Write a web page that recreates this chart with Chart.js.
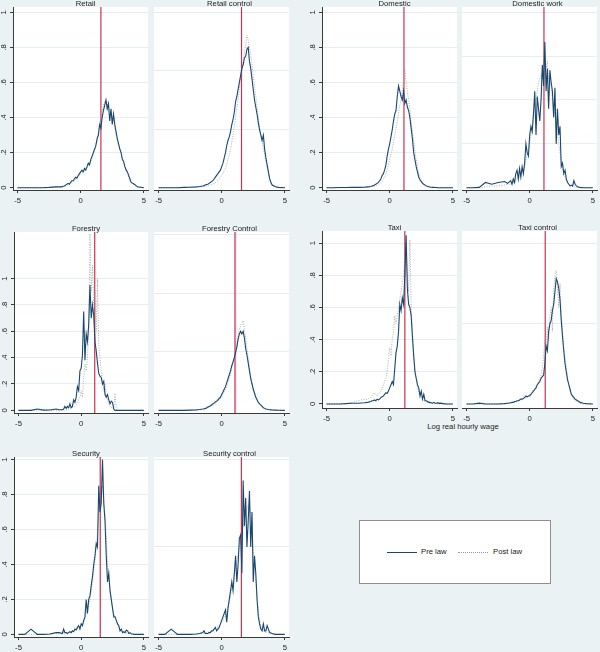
<!DOCTYPE html>
<html>
<head>
<meta charset="utf-8">
<script src="https://cdn.jsdelivr.net/npm/chart.js@4.4.0/dist/chart.umd.min.js"></script>
<style>
  html, body { margin: 0; padding: 0; }
  body { width: 600px; height: 652px; background: #eaf2f3; position: relative; overflow: hidden;
         font-family: "Liberation Sans", Arial, sans-serif; color: #222; }
  canvas { position: absolute; }
  #xtitle { position: absolute; left: 403px; width: 120px; top: 423px; line-height: 8px;
            text-align: center; font-size: 7.7px; }
  #legend { position: absolute; left: 359px; top: 520px; width: 190px; height: 62px;
            background: #fff; border: 1px solid #8e8e8e; }
  .key { position: absolute; top: 31px; width: 30px; height: 0; }
  .lab { position: absolute; top: 27px; line-height: 8px; font-size: 7.7px; white-space: nowrap; }
</style>
</head>
<body>
<div id="xtitle">Log real hourly wage</div>
<div id="legend">
  <div class="key" style="left:27px; border-top:1.3px solid #1a476f;"></div>
  <div class="lab" style="left:61px;">Pre law</div>
  <div class="key" style="left:98px; border-top:1px dotted #999;"></div>
  <div class="lab" style="left:133px;">Post law</div>
</div>
<script>
// x grid shared by all the density curves
const grid = [-5, -4.5, -4, -3.5, -3, -2.5, -2, -1.75,
  -1.5, -1.4, -1.3, -1.2, -1.1, -1, -0.9, -0.8, -0.7, -0.6,
  -0.5, -0.4, -0.3, -0.2, -0.1, 0, 0.1, 0.2, 0.3, 0.4,
  0.5, 0.6, 0.7, 0.8, 0.9, 1, 1.1, 1.2, 1.3, 1.4,
  1.5, 1.6, 1.7, 1.8, 1.9, 2, 2.1, 2.2, 2.3, 2.4,
  2.5, 2.6, 2.7, 2.8, 2.9, 3, 3.1, 3.2, 3.3, 3.4,
  3.5, 3.6, 3.7, 3.8, 3.9, 4,
  4.25, 4.5, 5];

const xTicks = [-5, 0, 5];
const yTicks = [0, 0.2, 0.4, 0.6, 0.8, 1];
const yTickLabels = ['0', '.2', '.4', '.6', '.8', '1'];

// gridlines of the right hand panels
const retailCtrlGrid = [0.333, 0.667, 1];
const domWorkGrid = [0.25, 0.5, 0.75, 1];
const forestCtrlGrid = [0.444, 0.889, 1.333];
const taxiCtrlGrid = [0.5, 1];
const secCtrlGrid = [0.5, 1];

// log minimum wage (red line)
const retailMin = 1.6, retailCtrlMin = 1.57;
const domMin = 1.13, domWorkMin = 1.13;
const forestMin = 1.08, forestCtrlMin = 1.06;
const taxiMin = 1.2, taxiCtrlMin = 1.23;
const secMin = 1.52, secCtrlMin = 1.56;

// Retail
const retailPre = [0, 0, 0, 0, 0, 0.002, 0.005, 0.005,
  0.005, 0.008, 0.01, 0.015, 0.02, 0.025, 0.02, 0.03, 0.04, 0.04,
  0.05, 0.06, 0.055, 0.07, 0.08, 0.09, 0.1, 0.09, 0.11, 0.1,
  0.12, 0.14, 0.13, 0.16, 0.18, 0.2, 0.22, 0.24, 0.28, 0.3,
  0.36, 0.34, 0.4, 0.44, 0.47, 0.5, 0.45, 0.48, 0.38, 0.45,
  0.36, 0.42, 0.36, 0.32, 0.28, 0.25, 0.22, 0.2, 0.16, 0.15,
  0.12, 0.1, 0.09, 0.07, 0.05, 0.03,
  0.02, 0.005, 0];
const retailPost = [0, 0, 0, 0, 0, 0.002, 0.003, 0.005,
  0.005, 0.006, 0.008, 0.01, 0.012, 0.015, 0.02, 0.025, 0.03, 0.035,
  0.04, 0.05, 0.055, 0.06, 0.07, 0.08, 0.085, 0.09, 0.1, 0.105,
  0.11, 0.12, 0.14, 0.15, 0.17, 0.19, 0.21, 0.24, 0.27, 0.31,
  0.37, 0.4, 0.44, 0.47, 0.49, 0.5, 0.48, 0.46, 0.44, 0.43,
  0.41, 0.39, 0.35, 0.3, 0.27, 0.24, 0.22, 0.2, 0.17, 0.14,
  0.12, 0.1, 0.08, 0.06, 0.04, 0.03,
  0.015, 0.005, 0];

// Retail control
const retailCtrlPre = [0, 0, 0, 0, 0.002, 0.003, 0.005, 0.007,
  0.01, 0.012, 0.015, 0.018, 0.02, 0.025, 0.03, 0.035, 0.04, 0.05,
  0.06, 0.07, 0.08, 0.09, 0.1, 0.12, 0.14, 0.17, 0.2, 0.24,
  0.27, 0.29, 0.32, 0.36, 0.39, 0.43, 0.49, 0.52, 0.56, 0.6,
  0.64, 0.68, 0.7, 0.74, 0.75, 0.79, 0.8, 0.72, 0.68, 0.62,
  0.56, 0.5, 0.46, 0.42, 0.37, 0.33, 0.3, 0.27, 0.3, 0.22,
  0.17, 0.13, 0.09, 0.05, 0.03, 0.015,
  0.005, 0.002, 0];
const retailCtrlPost = [0, 0, 0, 0, 0.001, 0.002, 0.003, 0.005,
  0.006, 0.007, 0.008, 0.01, 0.012, 0.014, 0.016, 0.018, 0.02, 0.025,
  0.03, 0.035, 0.04, 0.05, 0.06, 0.07, 0.08, 0.1, 0.11, 0.13,
  0.16, 0.19, 0.22, 0.26, 0.3, 0.35, 0.4, 0.45, 0.5, 0.56,
  0.62, 0.67, 0.72, 0.77, 0.82, 0.87, 0.84, 0.8, 0.76, 0.7,
  0.64, 0.58, 0.52, 0.46, 0.4, 0.35, 0.3, 0.26, 0.22, 0.19,
  0.15, 0.12, 0.08, 0.05, 0.03, 0.015,
  0.006, 0.002, 0];

// Domestic
const domPre = [0, 0, 0.001, 0.001, 0.002, 0.002, 0.003, 0.005,
  0.007, 0.01, 0.012, 0.015, 0.02, 0.025, 0.03, 0.04, 0.05, 0.07,
  0.08, 0.1, 0.13, 0.18, 0.22, 0.25, 0.29, 0.33, 0.38, 0.42,
  0.44, 0.52, 0.58, 0.55, 0.52, 0.5, 0.55, 0.48, 0.5, 0.46,
  0.44, 0.4, 0.34, 0.28, 0.2, 0.16, 0.12, 0.09, 0.06, 0.045,
  0.035, 0.025, 0.02, 0.015, 0.01, 0.008, 0.006, 0.004, 0.003, 0.002,
  0.002, 0.001, 0.001, 0, 0, 0,
  0, 0, 0];
const domPost = [0, 0, 0, 0, 0.001, 0.002, 0.003, 0.004,
  0.005, 0.006, 0.008, 0.01, 0.012, 0.015, 0.02, 0.025, 0.03, 0.04,
  0.05, 0.06, 0.08, 0.1, 0.13, 0.16, 0.19, 0.22, 0.26, 0.3,
  0.34, 0.38, 0.42, 0.47, 0.5, 0.55, 0.62, 0.68, 0.6, 0.55,
  0.5, 0.45, 0.38, 0.32, 0.27, 0.21, 0.16, 0.12, 0.08, 0.06,
  0.04, 0.03, 0.02, 0.015, 0.01, 0.007, 0.005, 0.003, 0.002, 0.001,
  0.001, 0, 0, 0, 0, 0,
  0, 0, 0];

// Domestic work
const domWorkPre = [0, 0, 0.002, 0.03, 0.02, 0.03, 0.035, 0.025,
  0.04, 0.02, 0.05, 0.03, 0.08, 0.1, 0.05, 0.11, 0.06, 0.12,
  0.08, 0.14, 0.25, 0.2, 0.18, 0.3, 0.35, 0.32, 0.42, 0.55,
  0.3, 0.52, 0.45, 0.38, 0.5, 0.7, 0.58, 0.83, 0.55, 0.68,
  0.45, 0.67, 0.6, 0.55, 0.4, 0.57, 0.25, 0.45, 0.3, 0.35,
  0.12, 0.14, 0.08, 0.1, 0.05, 0.03, 0.02, 0.01, 0.015, 0.01,
  0.04, 0.02, 0.01, 0.005, 0.003, 0.002,
  0, 0, 0];
const domWorkPost = [0, 0, 0, 0.005, 0.01, 0.01, 0.015, 0.02,
  0.02, 0.025, 0.03, 0.03, 0.04, 0.05, 0.05, 0.06, 0.08, 0.09,
  0.1, 0.12, 0.15, 0.2, 0.22, 0.25, 0.3, 0.35, 0.42, 0.48,
  0.5, 0.55, 0.6, 0.62, 0.65, 0.62, 0.7, 0.75, 0.68, 0.72,
  0.62, 0.6, 0.58, 0.5, 0.45, 0.42, 0.38, 0.3, 0.25, 0.2,
  0.15, 0.1, 0.08, 0.06, 0.04, 0.03, 0.02, 0.015, 0.01, 0.01,
  0.01, 0.005, 0.003, 0, 0, 0,
  0, 0, 0];

// Forestry
const forestPre = [0, 0, 0, 0.01, 0.002, 0.003, 0.01, 0.005,
  0.005, 0.01, 0.03, 0.015, 0.03, 0.02, 0.05, 0.02, 0.03, 0.08,
  0.06, 0.1, 0.18, 0.15, 0.3, 0.32, 0.42, 0.75, 0.38, 0.58,
  0.52, 0.65, 0.95, 0.7, 0.8, 0.72, 0.52, 0.45, 0.36, 0.28,
  0.26, 0.25, 0.2, 0.22, 0.12, 0.1, 0.12, 0.08, 0.05, 0.07,
  0.06, 0.01, 0, 0, 0, 0, 0, 0, 0, 0,
  0, 0, 0, 0, 0, 0,
  0, 0, 0];
const forestPost = [0, 0, 0, 0, 0, 0, 0, 0,
  0, 0, 0, 0, 0.005, 0.01, 0.01, 0.02, 0.02, 0.03,
  0.03, 0.04, 0.05, 0.08, 0.1, 0.15, 0.1, 0.25, 0.35, 0.3,
  0.4, 0.6, 1.34, 0.9, 1.1, 0.8, 0.9, 0.6, 1.0, 0.5,
  0.4, 0.3, 0.2, 0.15, 0.2, 0.1, 0.08, 0.05, 0.03, 0.02,
  0.02, 0.01, 0.13, 0.01, 0, 0, 0, 0, 0, 0,
  0, 0, 0, 0, 0, 0,
  0, 0, 0];

// Forestry Control
const forestCtrlPre = [0, 0, 0, 0, 0, 0.002, 0.004, 0.006,
  0.01, 0.012, 0.015, 0.018, 0.025, 0.03, 0.035, 0.04, 0.05, 0.055,
  0.065, 0.07, 0.08, 0.09, 0.1, 0.12, 0.14, 0.16, 0.18, 0.21,
  0.24, 0.27, 0.3, 0.34, 0.37, 0.4, 0.44, 0.48, 0.54, 0.58,
  0.6, 0.58, 0.6, 0.55, 0.47, 0.42, 0.36, 0.3, 0.24, 0.2,
  0.16, 0.13, 0.1, 0.08, 0.06, 0.05, 0.04, 0.03, 0.02, 0.015,
  0.01, 0.008, 0.006, 0.005, 0.004, 0.003,
  0.002, 0.001, 0];
const forestCtrlPost = [0, 0, 0, 0, 0, 0.001, 0.003, 0.005,
  0.007, 0.01, 0.012, 0.015, 0.02, 0.025, 0.03, 0.035, 0.04, 0.045,
  0.05, 0.06, 0.07, 0.08, 0.09, 0.1, 0.12, 0.14, 0.16, 0.18,
  0.21, 0.24, 0.28, 0.32, 0.36, 0.4, 0.45, 0.5, 0.56, 0.62,
  0.64, 0.66, 0.68, 0.62, 0.55, 0.47, 0.4, 0.33, 0.26, 0.21,
  0.17, 0.14, 0.11, 0.08, 0.06, 0.05, 0.04, 0.03, 0.02, 0.015,
  0.01, 0.008, 0.006, 0.004, 0.003, 0.002,
  0.001, 0, 0];

// Taxi
const taxiPre = [0, 0, 0, 0.002, 0.005, 0.005, 0.008, 0.01,
  0.015, 0.02, 0.02, 0.025, 0.02, 0.03, 0.025, 0.03, 0.04, 0.045,
  0.05, 0.06, 0.07, 0.065, 0.08, 0.1, 0.12, 0.14, 0.12, 0.22,
  0.32, 0.36, 0.45, 0.62, 0.58, 0.66, 0.62, 0.8, 1.05, 0.72,
  0.62, 0.6, 0.55, 0.42, 0.3, 0.2, 0.16, 0.12, 0.1, 0.05,
  0.08, 0.03, 0.06, 0.02, 0.02, 0.015, 0.01, 0.01, 0.008, 0.005,
  0.01, 0.005, 0.005, 0.008, 0.004, 0.005,
  0.002, 0, 0];
const taxiPost = [0, 0, 0, 0, 0.01, 0.02, 0.03, 0.03,
  0.04, 0.05, 0.06, 0.07, 0.06, 0.05, 0.06, 0.07, 0.08, 0.1,
  0.12, 0.14, 0.16, 0.2, 0.28, 0.35, 0.3, 0.4, 0.45, 0.55,
  0.5, 0.55, 0.6, 0.65, 0.7, 0.75, 0.8, 0.9, 1.0, 0.8,
  0.7, 1.02, 0.6, 0.45, 0.3, 0.22, 0.15, 0.1, 0.07, 0.05,
  0.04, 0.03, 0.02, 0.015, 0.01, 0.008, 0.005, 0.004, 0.003, 0.002,
  0.002, 0, 0, 0, 0, 0,
  0, 0, 0];

// Taxi control
const taxiCtrlPre = [0, 0, 0.005, 0, 0, 0, 0.002, 0.005,
  0.008, 0.01, 0.01, 0.015, 0.015, 0.02, 0.02, 0.025, 0.03, 0.03,
  0.035, 0.04, 0.05, 0.045, 0.05, 0.05, 0.06, 0.07, 0.08, 0.09,
  0.1, 0.12, 0.13, 0.14, 0.16, 0.17, 0.18, 0.25, 0.36, 0.33,
  0.45, 0.5, 0.52, 0.58, 0.62, 0.7, 0.78, 0.76, 0.72, 0.65,
  0.52, 0.42, 0.33, 0.25, 0.2, 0.15, 0.12, 0.09, 0.06, 0.05,
  0.04, 0.03, 0.025, 0.02, 0.015, 0.01,
  0.005, 0.002, 0];
const taxiCtrlPost = [0, 0, 0, 0, 0, 0, 0.001, 0.003,
  0.005, 0.006, 0.008, 0.01, 0.012, 0.015, 0.018, 0.02, 0.025, 0.03,
  0.03, 0.035, 0.04, 0.045, 0.05, 0.06, 0.07, 0.08, 0.09, 0.1,
  0.11, 0.12, 0.14, 0.16, 0.18, 0.22, 0.3, 0.4, 0.35, 0.48,
  0.4, 0.55, 0.6, 0.45, 0.72, 0.8, 0.83, 0.72, 0.6, 0.75,
  0.55, 0.45, 0.35, 0.28, 0.22, 0.16, 0.12, 0.08, 0.05, 0.04,
  0.03, 0.02, 0.015, 0.01, 0.005, 0.003,
  0, 0, 0];

// Security
const secPre = [0, 0, 0.03, 0, 0, 0.002, 0.01, 0.01,
  0.005, 0.03, 0.01, 0.01, 0.005, 0.01, 0.015, 0.01, 0.02, 0.015,
  0.03, 0.025, 0.04, 0.05, 0.03, 0.06, 0.05, 0.08, 0.1, 0.2,
  0.12, 0.2, 0.22, 0.28, 0.33, 0.4, 0.45, 0.52, 0.5, 0.85,
  0.7, 0.75, 1.0, 0.75, 0.65, 0.45, 0.3, 0.35, 0.25, 0.2,
  0.15, 0.1, 0.1, 0.08, 0.06, 0.05, 0.02, 0.03, 0.01, 0.015,
  0.01, 0.025, 0.02, 0.005, 0.01, 0.003,
  0, 0, 0];
const secPost = [0, 0, 0, 0, 0, 0, 0.005, 0.005,
  0.005, 0.01, 0.01, 0.01, 0.01, 0.012, 0.015, 0.015, 0.018, 0.02,
  0.025, 0.03, 0.035, 0.04, 0.045, 0.05, 0.06, 0.07, 0.09, 0.12,
  0.14, 0.17, 0.2, 0.25, 0.3, 0.36, 0.42, 0.5, 0.58, 0.7,
  0.78, 0.8, 0.85, 0.78, 0.68, 0.55, 0.4, 0.32, 0.26, 0.2,
  0.15, 0.12, 0.1, 0.08, 0.06, 0.04, 0.03, 0.02, 0.015, 0.01,
  0.01, 0.008, 0.006, 0.004, 0.003, 0.002,
  0, 0, 0];

// Security control
const secCtrlPre = [0, 0, 0.03, 0, 0, 0, 0.002, 0.005,
  0.01, 0.02, 0.005, 0.005, 0.005, 0.01, 0.01, 0.02, 0.02, 0.03,
  0.04, 0.02, 0.03, 0.04, 0.06, 0.08, 0.1, 0.12, 0.14, 0.07,
  0.15, 0.2, 0.25, 0.3, 0.25, 0.35, 0.45, 0.3, 0.4, 0.55,
  0.57, 0.35, 0.88, 0.62, 0.78, 0.5, 0.65, 0.82, 0.5, 0.7,
  0.3, 0.45, 0.35, 0.2, 0.1, 0.06, 0.03, 0.02, 0.06, 0.02,
  0.02, 0.05, 0.03, 0.01, 0.008, 0.005,
  0, 0, 0];
const secCtrlPost = [0, 0, 0, 0, 0, 0, 0.002, 0.004,
  0.006, 0.008, 0.01, 0.01, 0.012, 0.015, 0.018, 0.02, 0.025, 0.03,
  0.035, 0.04, 0.045, 0.05, 0.06, 0.07, 0.08, 0.1, 0.12, 0.14,
  0.16, 0.18, 0.22, 0.26, 0.3, 0.34, 0.38, 0.42, 0.46, 0.5,
  0.54, 0.58, 0.62, 0.65, 0.7, 0.72, 0.74, 0.72, 0.7, 0.6,
  0.45, 0.4, 0.3, 0.22, 0.14, 0.08, 0.05, 0.03, 0.02, 0.015,
  0.01, 0.01, 0.008, 0.005, 0.003, 0.002,
  0, 0, 0];

const NAVY = '#1a476f';
const AXIS = '#3a3a3a';
const GRID = '#e6eef0';
const RED = '#c8334f';
const FONT = '"Liberation Sans", Arial, sans-serif';
Chart.defaults.font.family = FONT;

// box = plot region [left, top, right, bottom] on the page
const panels = [
  { title: 'Retail', pre: retailPre, post: retailPost, thr: retailMin, box: [13, 7, 148, 190], y: [-0.013, 1.03], side: 'left' },
  { title: 'Retail control', pre: retailCtrlPre, post: retailCtrlPost, thr: retailCtrlMin, box: [154, 7, 289, 190], y: [-0.013, 1.03], grid: retailCtrlGrid },
  { title: 'Domestic', pre: domPre, post: domPost, thr: domMin, box: [322, 7, 457, 190], y: [-0.013, 1.03], side: 'left' },
  { title: 'Domestic work', pre: domWorkPre, post: domWorkPost, thr: domWorkMin, box: [462, 7, 597, 190], y: [-0.013, 1.03], grid: domWorkGrid },
  { title: 'Forestry', pre: forestPre, post: forestPost, thr: forestMin, box: [14, 232, 148, 413], y: [-0.02, 1.353], side: 'left' },
  { title: 'Forestry Control', pre: forestCtrlPre, post: forestCtrlPost, thr: forestCtrlMin, box: [154, 232, 289, 413], y: [-0.02, 1.353], grid: forestCtrlGrid, thrColor: '#d77f97', thrWidth: 2.2 },
  { title: 'Taxi', pre: taxiPre, post: taxiPost, thr: taxiMin, box: [322, 231, 457, 408], y: [-0.025, 1.076], side: 'left' },
  { title: 'Taxi control', pre: taxiCtrlPre, post: taxiCtrlPost, thr: taxiCtrlMin, box: [462, 231, 597, 408], y: [-0.025, 1.076], grid: taxiCtrlGrid },
  { title: 'Security', pre: secPre, post: secPost, thr: secMin, box: [14, 457, 148, 637], y: [-0.015, 1.015], side: 'left' },
  { title: 'Security control', pre: secCtrlPre, post: secCtrlPost, thr: secCtrlMin, box: [154, 457, 289, 637], y: [-0.015, 1.015], grid: secCtrlGrid }
];

// white plot region
const plotBg = {
  id: 'plotBg',
  beforeDraw(chart) {
    const a = chart.chartArea;
    chart.ctx.save();
    chart.ctx.fillStyle = '#fff';
    chart.ctx.fillRect(a.left, a.top, a.right - a.left, a.bottom - a.top);
    chart.ctx.restore();
  }
};

// rotated y labels (Chart.js does not rotate labels of a vertical axis)
const yLabels = {
  id: 'yLabels',
  afterDraw(chart) {
    if (!chart.options.plugins.yLabels.show) return;
    const ctx = chart.ctx, ys = chart.scales.y;
    ctx.save();
    ctx.fillStyle = '#222';
    ctx.font = '7.7px ' + FONT;
    ctx.textAlign = 'center';
    ctx.textBaseline = 'middle';
    yTicks.forEach((v, i) => {
      ctx.save();
      ctx.translate(chart.chartArea.left - 9, ys.getPixelForValue(v));
      ctx.rotate(-Math.PI / 2);
      ctx.fillText(yTickLabels[i], 0, 0);
      ctx.restore();
    });
    ctx.restore();
  }
};

// subtitles sit a little right of the plot centre
const titleShift = {
  id: 'titleShift',
  afterLayout(chart) {
    const dx = chart.options.plugins.titleShift.dx;
    if (chart.titleBlock) {
      chart.titleBlock.left += dx;
      chart.titleBlock.right += dx;
    }
  }
};

panels.forEach(p => {
  const isLeft = p.side === 'left';
  const yW = isLeft ? 13 : 0;
  const padL = isLeft ? 0 : 6;
  const cx = p.box[0] - yW - padL;
  const cy = p.box[1] - 8;
  const w = p.box[2] + 2 - cx;
  const h = p.box[3] + 16 - cy;

  const cv = document.createElement('canvas');
  cv.width = w;
  cv.height = h;
  cv.style.left = cx + 'px';
  cv.style.top = cy + 'px';
  document.body.appendChild(cv);

  new Chart(cv, {
    type: 'line',
    data: {
      datasets: [
        { label: 'Pre law', data: grid.map((x, i) => ({ x: x, y: p.pre[i] })),
          borderColor: NAVY, borderWidth: 1.1, pointRadius: 0, tension: 0 },
        { label: 'Post law', data: grid.map((x, i) => ({ x: x, y: p.post[i] })),
          borderColor: '#9a9a9a', borderWidth: 0.8, borderDash: [1, 1.5], pointRadius: 0, tension: 0 },
        { label: 'min', data: [{ x: p.thr, y: p.y[0] }, { x: p.thr, y: p.y[1] }],
          borderColor: p.thrColor || RED, borderWidth: p.thrWidth || 1.2, pointRadius: 0 }
      ]
    },
    options: {
      responsive: false,
      animation: false,
      layout: { padding: { left: padL, right: 2, top: 0, bottom: 0 } },
      plugins: {
        legend: { display: false },
        tooltip: { enabled: false },
        title: { display: true, text: p.title, color: '#222', fullSize: false,
                 font: { size: 7.7, weight: 'normal', lineHeight: '7px' }, padding: { top: 1, bottom: 0 } },
        yLabels: { show: isLeft },
        titleShift: { dx: isLeft ? 5 : 8 }
      },
      scales: {
        x: {
          type: 'linear', min: -5.36, max: 5.33,
          afterBuildTicks: s => { s.ticks = xTicks.map(v => ({ value: v })); },
          afterFit: s => { s.height = 16; },
          ticks: { color: '#222', font: { size: 7.7 }, padding: 3, maxRotation: 0, callback: v => String(v) },
          grid: { drawOnChartArea: false, drawTicks: true, tickLength: 3, color: AXIS, tickColor: AXIS },
          border: { display: true, color: AXIS, width: 1 }
        },
        y: {
          min: p.y[0], max: p.y[1],
          afterBuildTicks: s => { s.ticks = (isLeft ? yTicks : p.grid).map(v => ({ value: v })); },
          afterFit: s => { s.width = yW; },
          ticks: { display: false },
          grid: { color: c => (isLeft && c.tick && c.tick.value === 0) ? 'rgba(0,0,0,0)' : GRID,
                  drawTicks: isLeft, tickLength: 3, tickColor: AXIS, lineWidth: 1 },
          border: { display: isLeft, color: AXIS, width: 1 }
        }
      }
    },
    plugins: [plotBg, yLabels, titleShift]
  });
});
</script>
</body>
</html>
